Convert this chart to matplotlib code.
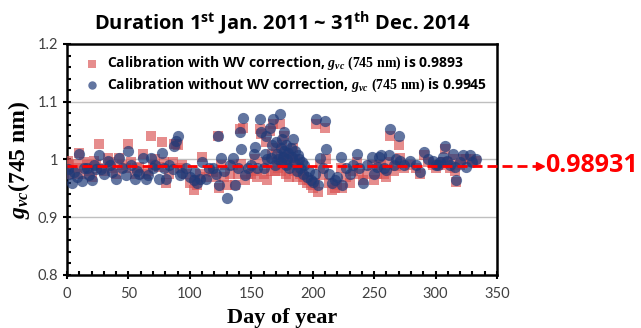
import matplotlib
matplotlib.use('Agg')
import matplotlib.pyplot as plt
import numpy as np

# day of year for each calibration
days = [1, 2, 4, 6, 8, 10, 12, 14, 16, 18, 20, 22, 24, 26, 28, 30, 33, 35, 37, 40,
        42, 45, 48, 50, 52, 55, 57, 59, 62, 64, 66, 68, 70, 72, 75, 77, 79, 81, 83, 86,
        87, 89, 90, 92, 94, 97, 100, 103, 104, 106, 108, 110, 113, 116, 119, 121, 123, 124, 125, 128,
        130, 133, 135, 137, 139, 141, 142, 143, 145, 147, 150, 152, 153, 155, 157, 158, 160, 161, 162, 163,
        165, 166, 167, 168, 169, 170, 171, 172, 173, 174, 174.5, 175, 176, 176.5, 177, 178, 178.5, 179, 180, 181,
        182, 183, 184, 185, 186, 187, 188, 189, 190, 191, 192, 193, 195, 197, 199, 200, 202, 203, 204, 206,
        208, 210, 211, 213, 216, 218, 220, 223, 224, 227, 230, 233, 236, 238, 241, 244, 248, 250, 252, 254,
        256, 258, 260, 262, 263, 266, 268, 270, 271, 274, 279, 284, 287, 291, 294, 298, 300, 302, 304, 306,
        308, 309, 312, 314, 316, 317, 320, 322, 325, 328, 330, 333]

# calibration without WV correction (blue circles)
g_no_wv = [0.984, 0.975, 0.959, 0.978, 0.970, 1.010, 0.962, 0.985, 0.986, 0.973, 0.964, 0.990, 0.983, 1.007, 0.983, 0.975, 0.998, 0.990, 0.978, 0.967,
           1.002, 0.985, 0.973, 1.015, 0.990, 0.967, 0.980, 0.975, 1.003, 0.967, 0.973, 1.003, 0.985, 0.990, 0.967, 1.012, 0.986, 0.967, 0.990, 0.984,
           1.024, 1.032, 1.040, 0.973, 0.976, 0.985, 0.970, 0.964, 0.978, 0.960, 0.967, 0.995, 0.967, 0.985, 0.985, 0.975, 1.040, 0.955, 1.002, 0.980,
           0.933, 0.990, 1.002, 0.955, 0.985, 1.048, 1.019, 1.071, 0.973, 0.985, 0.990, 1.010, 1.021, 0.985, 1.070, 1.047, 0.985, 1.010, 1.041, 1.000,
           1.055, 1.002, 1.025, 1.070, 0.990, 1.030, 1.010, 1.000, 1.078, 1.020, 0.995, 1.035, 1.005, 1.015, 1.047, 0.990, 1.025, 1.000, 1.012, 0.985,
           1.020, 1.005, 1.036, 0.995, 1.015, 0.980, 1.008, 1.000, 0.985, 0.995, 0.975, 0.990, 0.970, 0.980, 0.965, 0.961, 0.975, 1.070, 0.955, 1.002,
           0.985, 1.066, 1.018, 0.975, 0.959, 0.965, 0.970, 1.004, 0.955, 0.985, 0.975, 0.990, 1.010, 0.985, 0.959, 0.990, 1.004, 0.975, 0.987, 1.004,
           1.007, 0.985, 0.981, 1.007, 1.053, 0.990, 1.000, 1.041, 0.998, 0.990, 0.998, 0.990, 0.978, 1.013, 1.000, 0.998, 0.990, 0.990, 0.995, 1.005,
           1.024, 0.998, 0.990, 1.010, 0.987, 0.964, 0.995, 1.007, 0.987, 1.007, 0.995, 1.000]

# calibration with WV correction (red squares)
g_wv = [0.998, 0.990, 0.975, 0.992, 0.985, 1.012, 0.975, 0.995, 0.990, 0.980, 0.970, 0.998, 0.990, 1.027, 0.985, 0.980, 1.002, 0.995, 0.985, 0.975,
        1.003, 0.990, 0.985, 1.027, 0.995, 0.975, 0.985, 0.987, 1.010, 0.975, 0.980, 1.040, 0.990, 1.000, 0.987, 1.030, 0.995, 0.959, 0.975, 0.995,
        1.027, 1.027, 1.025, 0.985, 0.990, 0.975, 0.960, 0.947, 0.965, 0.955, 0.975, 1.004, 0.970, 0.980, 0.978, 0.970, 1.040, 0.950, 0.990, 0.970,
        0.955, 0.975, 0.990, 0.955, 0.975, 1.053, 0.993, 1.055, 0.965, 0.975, 0.975, 0.980, 1.000, 0.970, 1.053, 1.045, 0.975, 0.995, 1.030, 0.965,
        1.050, 0.980, 1.010, 1.062, 0.980, 1.020, 0.995, 0.985, 1.062, 1.005, 0.980, 1.025, 0.990, 1.000, 1.040, 0.975, 1.010, 0.990, 0.995, 0.970,
        1.005, 0.990, 1.020, 0.980, 1.000, 0.970, 0.990, 0.985, 0.975, 0.980, 0.965, 0.970, 0.960, 0.965, 0.955, 0.950, 0.960, 1.061, 0.944, 0.990,
        0.973, 1.054, 1.000, 0.960, 0.947, 0.950, 0.955, 0.985, 0.950, 0.970, 0.960, 0.980, 0.995, 0.975, 0.964, 0.975, 0.990, 0.964, 0.975, 0.990,
        0.990, 0.975, 0.970, 0.995, 1.040, 0.980, 0.988, 1.025, 1.002, 0.985, 0.990, 0.985, 0.975, 1.007, 0.995, 0.990, 0.985, 0.990, 0.990, 0.995,
        1.018, 0.995, 0.985, 1.000, 0.980, 0.961, 0.990, 1.000, 1.001, 1.000, 0.995, 0.998]

gvc_mean = 0.98931
x_ticks = [0, 50, 100, 150, 200, 250, 300, 350]
y_ticks = [0.8, 0.9, 1.0, 1.1, 1.2]
y_tick_labels = ['0.8', '0.9', '1', '1.1', '1.2']

sans = 'Open Sans'
plt.rcParams['mathtext.fontset'] = 'custom'
plt.rcParams['mathtext.it'] = 'Liberation Serif:italic:bold'
plt.rcParams['mathtext.rm'] = 'Liberation Serif:bold'
plt.rcParams['mathtext.bf'] = 'Open Sans:bold'

fig = plt.figure(figsize=(6.41, 3.28), dpi=100)
ax = fig.add_axes([0.1045, 0.1616, 0.6708, 0.7043])

ax.scatter(days, g_wv, marker='s', s=48, color='#d95050', alpha=0.65, linewidths=0, zorder=3,
           label='Calibration with WV correction, $g_{vc}$ $\\mathrm{(745\\ nm)}$ is 0.9893')
ax.scatter(days, g_no_wv, marker='o', s=65, color='#1f3a78', alpha=0.7, linewidths=0, zorder=4,
           label='Calibration without WV correction, $g_{vc}$ $\\mathrm{(745\\ nm)}$ is 0.9945')

# mean line running out of the axes to the label
ax.plot([0, 384], [gvc_mean, gvc_mean], color='red', lw=2, dashes=(3.6, 1.8), clip_on=False, zorder=6)
ax.plot(385, gvc_mean, marker='>', ms=6, color='red', clip_on=False, zorder=6)
ax.text(389, gvc_mean, '0.98931', color='red', fontsize=18, fontweight='bold', family=sans,
        va='center', ha='left', clip_on=False)

ax.set_xlim(0, 350)
ax.set_ylim(0.8, 1.2)
ax.set_xticks(x_ticks)
ax.set_xticks(np.arange(0, 351, 10), minor=True)
ax.set_yticks(y_ticks)
ax.set_yticklabels(y_tick_labels)
ax.set_yticks(np.arange(0.8, 1.2001, 0.02), minor=True)
for lab in ax.get_xticklabels() + ax.get_yticklabels():
    lab.set_family('Lato')
    lab.set_fontsize(10.5)
    lab.set_color('#404040')
ax.tick_params(which='major', direction='inout', length=6, width=1.5)
ax.tick_params(which='minor', direction='in', length=3, width=1.5)
ax.tick_params(axis='x', pad=6)

for y in [0.9, 1.0, 1.1]:
    ax.axhline(y, color='#bfbfbf', lw=1, zorder=1)
for sp in ax.spines.values():
    sp.set_linewidth(1.8)

ax.set_xlabel('Day of year', family='Liberation Serif', fontweight='bold', fontsize=16, labelpad=5)
ax.set_ylabel('$g_{vc}$(745 nm)', family='Liberation Serif', fontweight='bold', fontsize=17, labelpad=4)
ax.set_title('Duration 1$^{\\mathbf{st}}$ Jan. 2011 ~ 31$^{\\mathbf{th}}$ Dec. 2014', family=sans,
             fontweight='bold', fontsize=14.5, pad=11)

leg = ax.legend(loc='upper left', frameon=False, prop={'family': sans, 'weight': 'bold', 'size': 10},
                handletextpad=0.1, borderaxespad=0.4, labelspacing=0.3, markerscale=0.75)

fig.savefig('out.png', dpi=100)
